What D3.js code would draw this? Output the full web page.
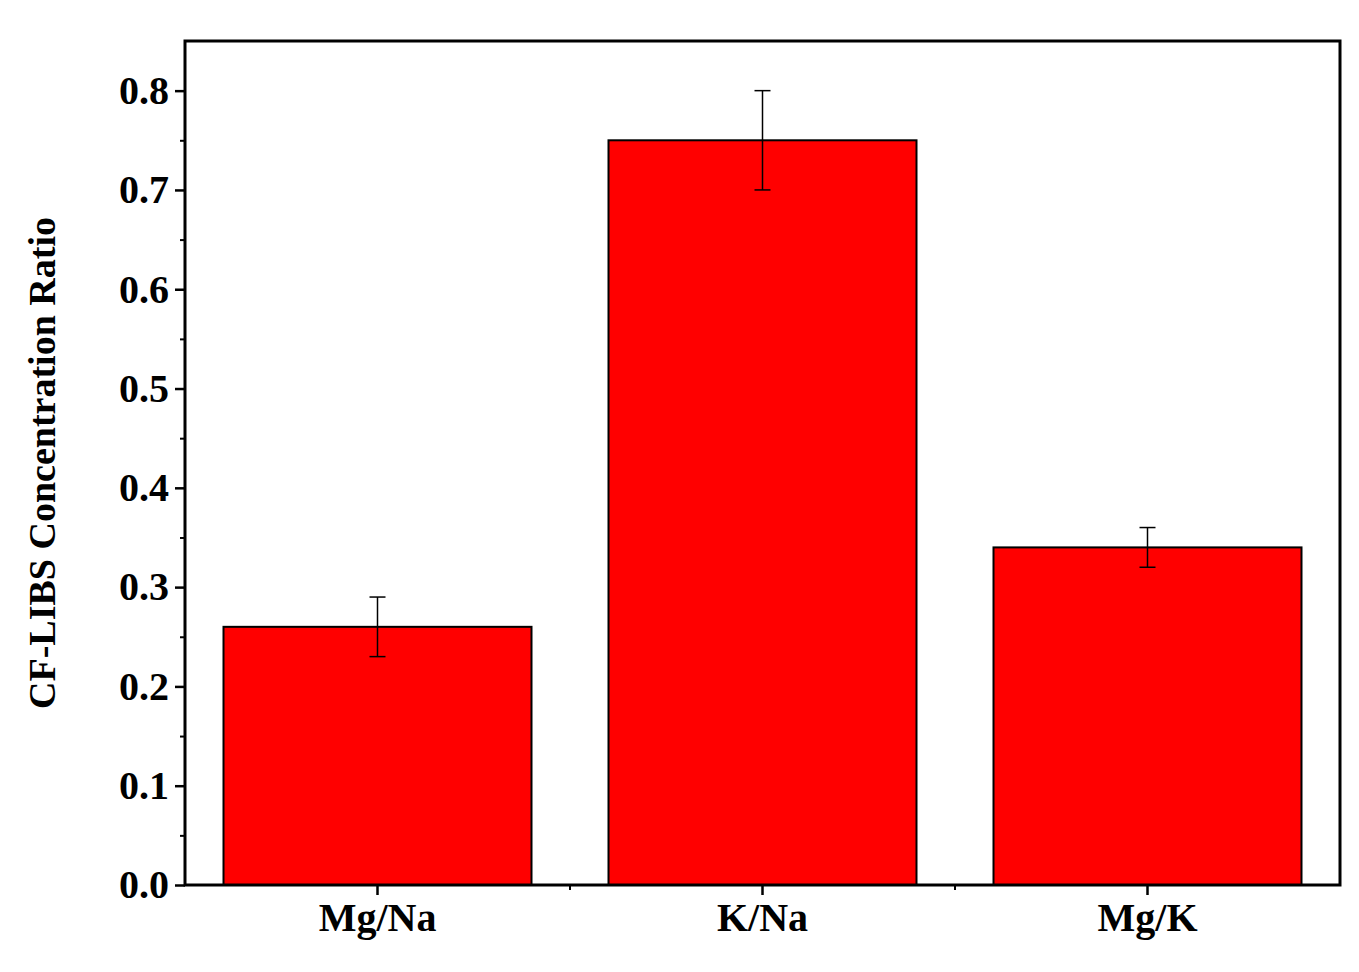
<!DOCTYPE html>
<html><head><meta charset="utf-8">
<script src="https://cdn.jsdelivr.net/npm/d3@7"></script>
<style>body{margin:0;background:#fff}</style>
</head><body>
<svg id="chart" width="1359" height="972"></svg>
<script>
const categories = ["Mg/Na", "K/Na", "Mg/K"];
const values = [0.26, 0.75, 0.34];
const errors = [0.03, 0.05, 0.02];
const yTicks = [0, 0.1, 0.2, 0.3, 0.4, 0.5, 0.6, 0.7, 0.8];

const svg = d3.select("#chart");
const mLeft = 185, mRight = 1340, mTop = 41, mBottom = 885;
const font = "'Liberation Serif', 'Times New Roman', serif";

const x = d3.scaleBand().domain(categories).range([mLeft, mRight]).paddingInner(0.2).paddingOuter(0.1);
const y = d3.scaleLinear().domain([0, 0.85]).range([mBottom, mTop]);

// bars
svg.selectAll("rect.bar").data(values).enter().append("rect")
  .attr("x", (d, i) => x(categories[i]))
  .attr("width", x.bandwidth())
  .attr("y", d => y(d))
  .attr("height", d => mBottom - y(d))
  .attr("fill", "#ff0000").attr("stroke", "#000").attr("stroke-width", 2);

// error bars
const cap = 8;
values.forEach((v, i) => {
  const cx = x(categories[i]) + x.bandwidth() / 2;
  const g = svg.append("g").attr("stroke", "#000").attr("stroke-width", 1.5);
  g.append("line").attr("x1", cx).attr("x2", cx).attr("y1", y(v + errors[i])).attr("y2", y(v - errors[i]));
  g.append("line").attr("x1", cx - cap).attr("x2", cx + cap).attr("y1", y(v + errors[i])).attr("y2", y(v + errors[i]));
  g.append("line").attr("x1", cx - cap).attr("x2", cx + cap).attr("y1", y(v - errors[i])).attr("y2", y(v - errors[i]));
});

// y axis
const yAxis = svg.append("g").attr("transform", `translate(${mLeft},0)`)
  .call(d3.axisLeft(y).tickValues(yTicks).tickFormat(d3.format(".1f")).tickSize(10).tickPadding(6));
yAxis.select(".domain").remove();
yAxis.selectAll("line").attr("stroke-width", 2.5);
yAxis.selectAll("text").attr("font-family", font).attr("font-weight", "bold").attr("font-size", 40).attr("fill", "#000");
svg.append("g").attr("transform", `translate(${mLeft},0)`)
  .call(d3.axisLeft(y).tickValues(d3.range(0.05, 0.85, 0.1)).tickSize(5).tickFormat(""))
  .call(g => g.select(".domain").remove())
  .selectAll("line").attr("stroke-width", 2);

// x axis
const xAxis = svg.append("g").attr("transform", `translate(0,${mBottom})`)
  .call(d3.axisBottom(x).tickSize(10).tickPadding(8));
xAxis.select(".domain").remove();
xAxis.selectAll("line").attr("stroke-width", 2.5);
xAxis.selectAll("text").attr("font-family", font).attr("font-weight", "bold").attr("font-size", 40).attr("fill", "#000");
const step = x.step();
const minorX = categories.slice(0, -1).map(c => x(c) + x.bandwidth() + (step - x.bandwidth()) / 2);
svg.selectAll("line.mx").data(minorX).enter().append("line")
  .attr("x1", d => d).attr("x2", d => d).attr("y1", mBottom).attr("y2", mBottom + 5)
  .attr("stroke", "#000").attr("stroke-width", 2);

// frame
svg.append("rect").attr("x", mLeft).attr("y", mTop).attr("width", mRight - mLeft).attr("height", mBottom - mTop)
  .attr("fill", "none").attr("stroke", "#000").attr("stroke-width", 3);

// y label
svg.append("text").attr("transform", `translate(55,${(mTop + mBottom) / 2}) rotate(-90)`)
  .attr("text-anchor", "middle").attr("font-family", font).attr("font-weight", "bold").attr("font-size", 38)
  .text("CF-LIBS Concentration Ratio");
</script>
</body></html>
